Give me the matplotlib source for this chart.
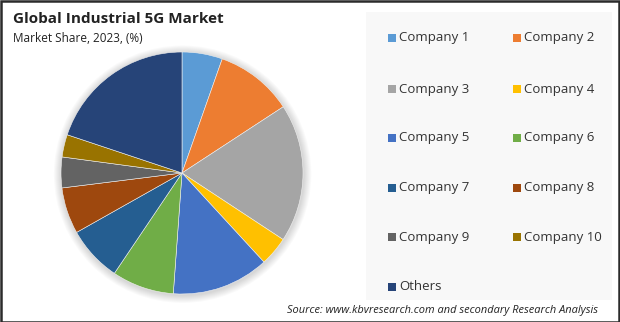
import matplotlib.pyplot as plt
from matplotlib.patches import Rectangle, Circle

# dados (participação de mercado, %)
empresas = ['Company 1', 'Company 2', 'Company 3', 'Company 4', 'Company 5',
            'Company 6', 'Company 7', 'Company 8', 'Company 9', 'Company 10',
            'Others']
valores = [5.4, 10.4, 18.5, 3.9, 13.0, 8.3, 7.4, 6.2, 4.1, 3.0, 19.9]
cores = ['#5B9BD5', '#ED7D31', '#A5A5A5', '#FFC000', '#4472C4', '#70AD47',
         '#255E91', '#9E480E', '#636363', '#997300', '#264478']

titulo = 'Global Industrial 5G Market'
subtitulo = 'Market Share, 2023, (%)'
fonte = 'Source: www.kbvresearch.com and secondary Research Analysis'

plt.rcParams['font.family'] = ['Open Sans', 'DejaVu Sans']

W, H = 620, 322
fig = plt.figure(figsize=(W / 100, H / 100), dpi=100)
fig.patch.set_facecolor('white')

# painel da legenda
fig.patches.append(Rectangle((366 / W, 1 - 300 / H), (612 - 366) / W, (300 - 12) / H,
                             transform=fig.transFigure, facecolor='#f8f8f8',
                             edgecolor='none', zorder=0))

# pizza: centro (182, 173), raio 121 px; eixo um pouco maior para a sombra
cx, cy, r = 182, 173, 121
m = 1.08
ax = fig.add_axes([(cx - r * m) / W, 1 - (cy + r * m) / H, 2 * r * m / W, 2 * r * m / H])
ax.axis('off')
# sombra suave em volta da pizza
for k in range(8):
    ax.add_patch(Circle((0.005, -0.01), 1.0 + 0.008 * (k + 1), facecolor='black',
                        alpha=0.018, edgecolor='none', zorder=0))
ax.pie(valores, colors=cores, startangle=90, counterclock=False,
       wedgeprops=dict(linewidth=0.4, edgecolor='#f0f0f0'))
ax.set_aspect('equal')
ax.set_xlim(-m, m)
ax.set_ylim(-m, m)

# título
fig.text(13 / W, 1 - 19 / H, titulo, fontsize=11, fontweight='bold',
         color='#222222', va='center', ha='left')
fig.text(13 / W, 1 - 39 / H, subtitulo, fontsize=8.5, color='#222222',
         va='center', ha='left')

# legenda em duas colunas (ordem por linha)
col_x = [388, 513]
linha_y = [38, 89, 138, 188, 237, 287]
for i, (nome, cor) in enumerate(zip(empresas, cores)):
    x = col_x[i % 2]
    y = linha_y[i // 2]
    fig.patches.append(Rectangle((x / W, 1 - (y + 4) / H), 8 / W, 8 / H,
                                 transform=fig.transFigure, facecolor=cor,
                                 edgecolor='none'))
    fig.text((x + 11) / W, 1 - y / H, nome, fontsize=9.5, color='#333333',
             va='center', ha='left')

# fonte
fig.text(598 / W, 1 - 311 / H, fonte, fontsize=7.9, style='italic',
         color='#222222', va='center', ha='right')

# borda
fig.patches.append(Rectangle((0.5 / W, 0.5 / H), (W - 1.5) / W, (H - 1.5) / H,
                             transform=fig.transFigure, facecolor='none',
                             edgecolor='#2b2b2b', linewidth=1.8))

fig.savefig('out.png', dpi=100)
